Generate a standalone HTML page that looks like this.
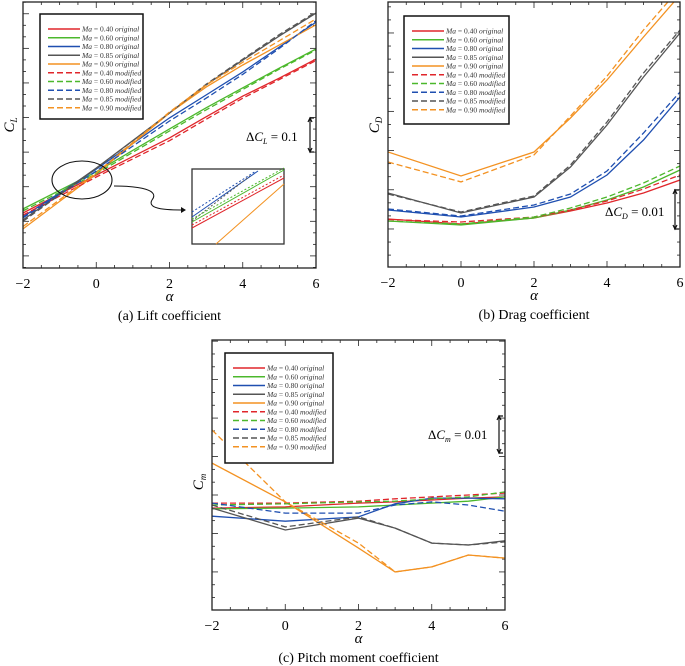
<!DOCTYPE html>
<html><head><meta charset="utf-8"><style>
body{margin:0;background:#fff;}
svg{display:block;font-family:"Liberation Serif",serif;}
</style></head><body>
<svg id="fig" width="685" height="666" viewBox="0 0 685 666"></svg>
<script>
const alphas = [-2, 0, 2, 3, 4, 5, 6];
const seriesNames = ["0.40","0.60","0.80","0.85","0.90"];
const colors = ["#e0262b","#4cb82c","#1f4fb0","#555555","#f39222"];
// Lift coefficient
const clOrig = [
 [0.124,0.234,0.341,0.402,0.462,0.514,0.569],
 [0.136,0.243,0.367,0.428,0.486,0.543,0.598],
 [0.113,0.251,0.399,0.465,0.532,0.604,0.676],
 [0.104,0.254,0.413,0.494,0.566,0.636,0.702],
 [0.078,0.237,0.413,0.488,0.552,0.610,0.668]];
const clMod = [
 [0.118,0.228,0.333,0.395,0.456,0.510,0.565],
 [0.130,0.238,0.361,0.422,0.481,0.540,0.595],
 [0.110,0.245,0.390,0.456,0.525,0.600,0.680],
 [0.100,0.253,0.413,0.496,0.569,0.640,0.705],
 [0.085,0.240,0.416,0.494,0.560,0.622,0.685]];
// Drag coefficient
const cdOrig = [
 [0.02255,0.02128,0.02281,0.02459,0.02663,0.02918,0.0325],
 [0.02204,0.02102,0.02281,0.02485,0.0274,0.03071,0.03505],
 [0.02485,0.02306,0.02561,0.02816,0.03378,0.0427,0.05367],
 [0.02918,0.02408,0.02816,0.03582,0.04653,0.05878,0.07],
 [0.03964,0.03352,0.03964,0.04832,0.05801,0.06898,0.07969]];
const cdMod = [
 [0.02242,0.02179,0.02306,0.02485,0.02714,0.0302,0.03378],
 [0.02204,0.02128,0.02306,0.02536,0.02816,0.03173,0.03607],
 [0.0251,0.02332,0.02612,0.02893,0.0348,0.04449,0.05495],
 [0.02893,0.02434,0.02842,0.03633,0.0473,0.0598,0.07077],
 [0.03709,0.032,0.03888,0.04883,0.059,0.07077,0.08148]];
// Pitch moment coefficient
const cmOrig = [
 [-0.0034,-0.0031,-0.0021,-0.0018,-0.0013,-0.0008,-0.0005],
 [-0.0036,-0.0034,-0.0031,-0.0026,-0.0021,-0.0016,-0.0005],
 [-0.0055,-0.0068,-0.0057,-0.0023,-0.0008,-0.0008,-0.0010],
 [-0.0034,-0.0091,-0.0060,-0.0086,-0.0125,-0.0130,-0.0119],
 [0.0083,-0.0018,-0.0138,-0.0200,-0.0187,-0.0156,-0.0164]];
const cmMod = [
 [-0.0021,-0.0021,-0.0016,-0.0010,-0.0005,0.0000,0.0005],
 [-0.0026,-0.0023,-0.0018,-0.0016,-0.0010,-0.0005,0.0008],
 [-0.0021,-0.0047,-0.0047,-0.0026,-0.0018,-0.0026,-0.0042],
 [-0.0026,-0.0083,-0.0057,-0.0086,-0.0125,-0.0130,-0.0122],
 [0.0169,-0.0018,-0.0125,-0.0200,-0.0187,-0.0156,-0.0164]];
const xTicks = [-2, 0, 2, 4, 6];

const NS = "http://www.w3.org/2000/svg";
const svg = document.getElementById("fig");
function el(tag, attrs, parent, text){
  const e = document.createElementNS(NS, tag);
  for (const k in attrs) e.setAttribute(k, attrs[k]);
  if (text !== undefined) e.textContent = text;
  (parent || svg).appendChild(e);
  return e;
}

function panel(cfg){
  const g = el("g", {});
  
  
  const {x0,x1,y0,y1,v0,v1} = cfg;
  const X = a => x0 + (a + 2) / 8 * (x1 - x0);
  const Y = v => y1 - (v - v0) / (v1 - v0) * (y1 - y0);
  const clipId = cfg.name + "-clip";
  const cp = el("clipPath", {id: clipId}, g);
  el("rect", {x:x0, y:y0, width:x1-x0, height:y1-y0}, cp);
  const tg = el("g", {stroke:"#222","stroke-width":0.8}, g);
  for (let a = -2; a <= 6.001; a += 0.5){
    const major = Math.abs(a - Math.round(a)) < 1e-6 && Math.round(a) % 2 === 0;
    const L = major ? 6 : 3;
    el("line", {x1:X(a), x2:X(a), y1:y1, y2:y1-L}, tg);
    el("line", {x1:X(a), x2:X(a), y1:y0, y2:y0+L}, tg);
  }
  const step = cfg.tick / 3;
  const kStart = Math.ceil((v0 - cfg.tickBase) / step), kEnd = Math.floor((v1 - cfg.tickBase) / step);
  for (let k = kStart; k <= kEnd; k++){
    const v = cfg.tickBase + k * step;
    const L = (k % 3 === 0) ? 6 : 3;
    el("line", {x1:x0, x2:x0+L, y1:Y(v), y2:Y(v)}, tg);
    el("line", {x1:x1, x2:x1-L, y1:Y(v), y2:Y(v)}, tg);
  }
  const sg = el("g", {"clip-path":"url(#"+clipId+")", fill:"none"}, g);
  const draw = (data, dashed) => data.forEach((vals, i) => {
    const d = vals.map((v, j) => (j ? "L" : "M") + X(alphas[j]).toFixed(1) + "," + Y(v).toFixed(1)).join(" ");
    const p = el("path", {d, stroke: colors[i], "stroke-width": 1.3}, sg);
    if (dashed) p.setAttribute("stroke-dasharray", "6,3");
    
    
  });
  draw(cfg.orig, false);
  draw(cfg.mod, true);
  el("rect", {x:x0, y:y0, width:x1-x0, height:y1-y0, fill:"none", stroke:"#222", "stroke-width":1.3}, g);
  xTicks.forEach(t => {
    const tx = el("text", {x:X(t), y:y1+20, "text-anchor":"middle", "font-size":14}, g, t < 0 ? "\u2212" + (-t) : String(t));
    
    
  });
  const ax = el("text", {x:(x0+x1)/2, y:y1+33, "text-anchor":"middle", "font-size":15, "font-style":"italic"}, g, "\u03b1");
  
  
  const cap = el("text", {x:(x0+x1)/2, y:y1+52, "text-anchor":"middle", "font-size":14}, g, cfg.caption);
  
  
  const yl = el("text", {transform:"translate("+(x0-9)+","+cfg.ylabY+") rotate(-90)", "text-anchor":"middle", "font-size":15, "font-style":"italic"}, g);
  
  
  el("tspan", {}, yl, "C");
  el("tspan", {"font-size":9, dy:3}, yl, cfg.ysub);
  const lg = el("g", {}, g);
  
  
  const [lx, ly, lw, lh] = cfg.legend;
  el("rect", {x:lx, y:ly, width:lw, height:lh, fill:"#fff", stroke:"#111", "stroke-width":1.5}, lg);
  for (let r = 0; r < 10; r++){
    const i = r % 5, dashed = r >= 5;
    const yy = ly + 15 + r * 8.75;
    const ln = el("line", {x1:lx+8, x2:lx+40, y1:yy, y2:yy, stroke:colors[i], "stroke-width":1.6}, lg);
    if (dashed) ln.setAttribute("stroke-dasharray", "6,3");
    const t = el("text", {x:lx+42, y:yy+2.5, "font-size":7.5, "font-style":"italic", fill:"#333"}, lg);
    
    
    el("tspan", {}, t, "Ma");
    el("tspan", {"font-style":"normal"}, t, " = " + seriesNames[i] + " ");
    el("tspan", {}, t, dashed ? "modified" : "original");
  }
  const [dx, dy, bx, b0, b1] = cfg.delta;
  const dt = el("text", {x:dx, y:dy, "font-size":13}, g);
  
  
  el("tspan", {}, dt, "\u0394");
  el("tspan", {"font-style":"italic"}, dt, "C");
  el("tspan", {"font-style":"italic","font-size":8, dy:3}, dt, cfg.ysub);
  el("tspan", {dy:-3}, dt, " = " + cfg.deltaVal);
  const bg = el("g", {stroke:"#111", "stroke-width":1.2, fill:"none"}, g);
  
  
  el("path", {d:`M${bx+4},${b0} H${bx} V${b1} H${bx+4}`}, bg);
  el("path", {d:`M${bx-2},${b0+4} L${bx},${b0} L${bx+2},${b0+4} M${bx-2},${b1-4} L${bx},${b1} L${bx+2},${b1-4}`}, bg);
  return {g, X, Y};
}

const A = panel({name:"lift-chart", x0:23, x1:316, y0:2, y1:268, v0:-0.035, v1:0.734, tick:0.1, tickBase:0,
  orig:clOrig, mod:clMod, caption:"(a) Lift coefficient", ysub:"L", ylabY:125,
  legend:[40,14,103,105], delta:[246,141,310,118,152], deltaVal:"0.1"});
el("ellipse", {cx:82, cy:180, rx:30, ry:19, fill:"none", stroke:"#111", "stroke-width":1.1}, A.g);
el("path", {d:"M114,186 C140,186 160,190 152,200 C146,210 170,210 185,210", fill:"none", stroke:"#111", "stroke-width":1}, A.g);
el("path", {d:"M181,207 L186,210 L181,213 Z", fill:"#111"}, A.g);
const inset = el("g", {}, A.g);


el("rect", {x:192, y:169, width:92, height:75, fill:"#fff", stroke:"#333", "stroke-width":1.3}, inset);
el("line", {x1:192, y1:217, x2:258, y2:171, stroke:colors[2], "stroke-width":1}, inset);
el("line", {x1:192, y1:212, x2:256, y2:171, stroke:colors[2], "stroke-width":1, "stroke-dasharray":"2,2"}, inset);
el("line", {x1:192, y1:221, x2:250, y2:176, stroke:colors[3], "stroke-width":1, "stroke-dasharray":"2,2"}, inset);
el("line", {x1:192, y1:222, x2:284, y2:170, stroke:colors[1], "stroke-width":1}, inset);
el("line", {x1:192, y1:219, x2:284, y2:168, stroke:colors[1], "stroke-width":1, "stroke-dasharray":"2,2"}, inset);
el("line", {x1:192, y1:228, x2:284, y2:178, stroke:colors[0], "stroke-width":1}, inset);
el("line", {x1:192, y1:225, x2:284, y2:175, stroke:colors[0], "stroke-width":1, "stroke-dasharray":"2,2"}, inset);
el("line", {x1:216, y1:244, x2:284, y2:184, stroke:colors[4], "stroke-width":1}, inset);

panel({name:"drag-chart", x0:388, x1:680, y0:2, y1:267, v0:0.0103, v1:0.0779, tick:0.01, tickBase:0.02,
  orig:cdOrig, mod:cdMod, caption:"(b) Drag coefficient", ysub:"D", ylabY:125,
  legend:[404,16,105,108], delta:[605,216,675,190,229], deltaVal:"0.01"});

panel({name:"pitch-moment-chart", x0:212, x1:505, y0:340, y1:610, v0:-0.0299, v1:0.0403, tick:0.01, tickBase:0,
  orig:cmOrig, mod:cmMod, caption:"(c) Pitch moment coefficient", ysub:"m", ylabY:482,
  legend:[225,353,108,110], delta:[428,439,499,416,453], deltaVal:"0.01"});
</script>
</body></html>
